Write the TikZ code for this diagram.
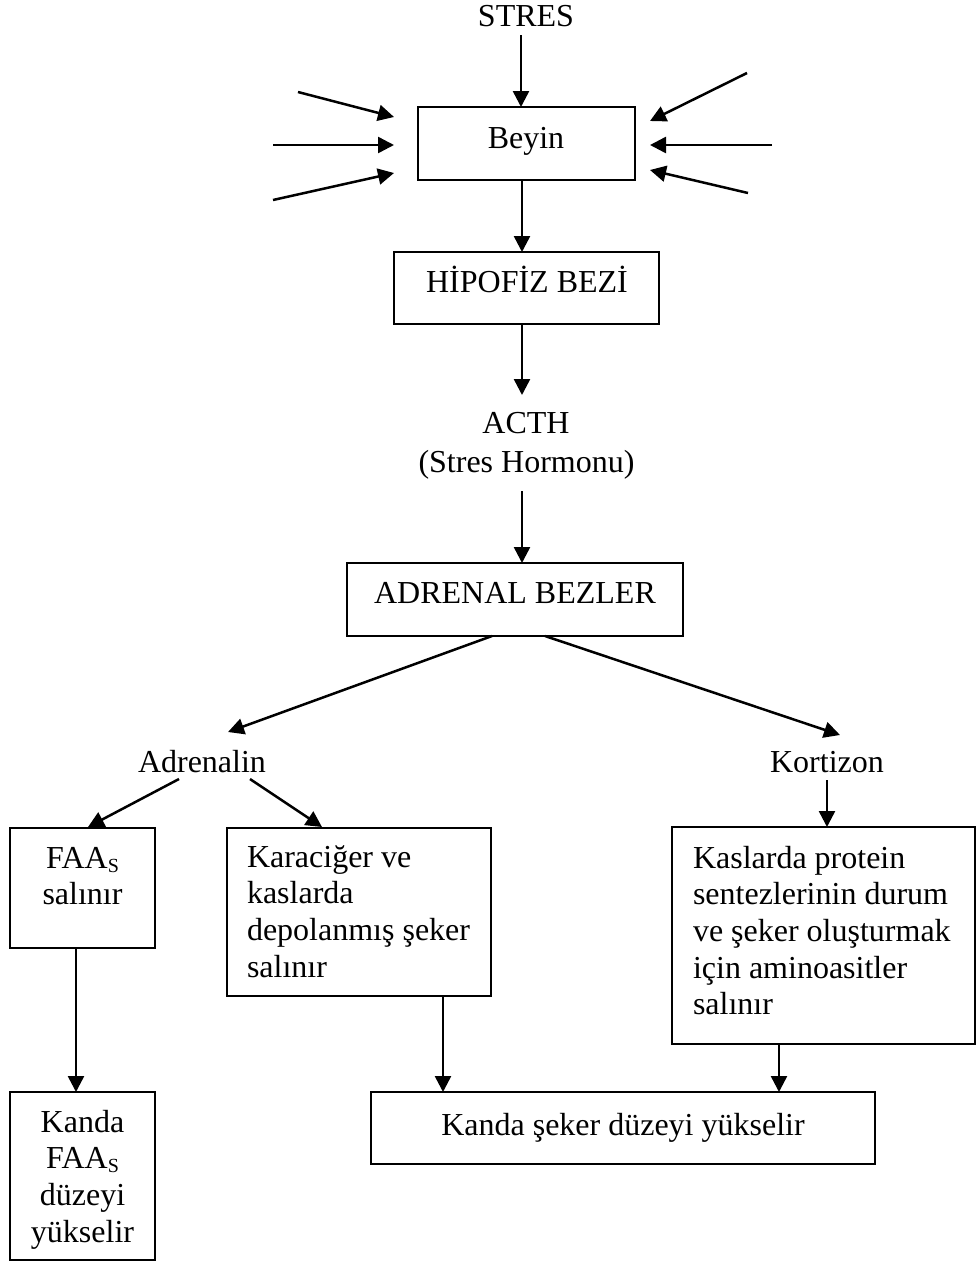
\documentclass[tikz,border=0pt]{standalone}
\usepackage{fontspec}
\setmainfont{Liberation Serif}
\usetikzlibrary{arrows.meta}
\newcommand\lowsub[1]{\raisebox{-4pt}{\fontsize{20}{20}\selectfont #1}}
\newcommand\linesL[1]{\begin{tabular}[t]{@{}l@{}}#1\end{tabular}}
\newcommand\linesC[1]{\begin{tabular}[t]{@{}c@{}}#1\end{tabular}}
\begin{document}
\begin{tikzpicture}[x=1pt,y=-1pt,
  font=\fontsize{32}{36.7}\selectfont,
  box/.style={draw, line width=2pt, inner sep=0pt, outer sep=0pt, anchor=north west},
  txt/.style={inner sep=0pt, outer sep=0pt},
  arr/.style={line width=2.5pt, -{Triangle[length=16pt,width=16pt]}}]
\useasboundingbox (0,0) rectangle (976,1262);

% boxes
\node[box, minimum width=217pt, minimum height=73pt] (beyin) at (418,107) {};
\node[box, minimum width=265pt, minimum height=72pt] (hip) at (394,252) {};
\node[box, minimum width=336pt, minimum height=73pt] (adr) at (347,563) {};
\node[box, minimum width=145pt, minimum height=120pt] (faa) at (10,828) {};
\node[box, minimum width=264pt, minimum height=168pt] (kar) at (227,828) {};
\node[box, minimum width=303pt, minimum height=217pt] (kas) at (672,827) {};
\node[box, minimum width=145pt, minimum height=168pt] (kfaa) at (10,1092) {};
\node[box, minimum width=504pt, minimum height=72pt] (kseker) at (371,1092) {};

% texts
\node[txt, anchor=base] (stres) at (526,26) {STRES};
\node[txt, anchor=base] (beyintxt) at (526,148) {Beyin};
\node[txt, anchor=base] (hiptxt) at (527,292) {HİPOFİZ BEZİ};
\node[txt, anchor=base] (acth) at (526,433) {ACTH};
\node[txt, anchor=base] (hormon) at (526.5,472) {(Stres Hormonu)};
\node[txt, anchor=base] (adrtxt) at (515,603) {ADRENAL BEZLER};
\node[txt, anchor=base] (adrenalin) at (202,772) {Adrenalin};
\node[txt, anchor=base] (kortizon) at (827,772) {Kortizon};
\node[txt, anchor=base] (faatxt) at (82.5,868) {\linesC{FAA\lowsub{S}\\ salınır}};
\node[txt, anchor=base west] (kartxt) at (247,867) {\linesL{Karaciğer ve\\ kaslarda\\ depolanmış şeker\\ salınır}};
\node[txt, anchor=base west] (kastxt) at (693,868) {\linesL{Kaslarda protein\\ sentezlerinin durum\\ ve şeker oluşturmak\\ için aminoasitler\\ salınır}};
\node[txt, anchor=base] (kfaatxt) at (82.5,1132) {\linesC{Kanda\\ FAA\lowsub{S}\\ düzeyi\\ yükselir}};
\node[txt, anchor=base] (ksekertxt) at (623,1135) {Kanda şeker düzeyi yükselir};

% free ends
\coordinate (s0) at (521,35);
\coordinate (mx) at (522,0);
\coordinate (acthtip) at (522,395);
\coordinate (acthfrom) at (522,491);
\coordinate (l1s) at (298,92);  \coordinate (l1e) at (394,117);
\coordinate (l2s) at (273,145); \coordinate (l2e) at (394,145);
\coordinate (l3s) at (273,200); \coordinate (l3e) at (394,173);
\coordinate (r1s) at (747,73);  \coordinate (r1e) at (650,121);
\coordinate (r2s) at (772,145); \coordinate (r2e) at (650,145);
\coordinate (r3s) at (748,193); \coordinate (r3e) at (650,170);
\coordinate (adrL) at (492,636); \coordinate (adrLtip) at (228,732);
\coordinate (adrR) at (545,636); \coordinate (adrRtip) at (840,735);
\coordinate (adnL) at (179,779); \coordinate (adnLtip) at (88,827);
\coordinate (adnR) at (250,779); \coordinate (adnRtip) at (322,827);
\coordinate (kort) at (827,780);
\coordinate (xfaa) at (76,0);
\coordinate (xkar) at (443,0);
\coordinate (xkas) at (779,0);

% connectors
\draw[arr] (s0) -- (s0 |- beyin.north);
\draw[arr] (l1s) -- (l1e);
\draw[arr] (l2s) -- (l2e);
\draw[arr] (l3s) -- (l3e);
\draw[arr] (r1s) -- (r1e);
\draw[arr] (r2s) -- (r2e);
\draw[arr] (r3s) -- (r3e);
\draw[arr] (mx |- beyin.south) -- (mx |- hip.north);
\draw[arr] (mx |- hip.south) -- (acthtip);
\draw[arr] (acthfrom) -- (mx |- adr.north);
\draw[arr] (adrL) -- (adrLtip);
\draw[arr] (adrR) -- (adrRtip);
\draw[arr] (adnL) -- (adnLtip);
\draw[arr] (adnR) -- (adnRtip);
\draw[arr] (kort) -- (kort |- kas.north);
\draw[arr] (xfaa |- faa.south) -- (xfaa |- kfaa.north);
\draw[arr] (xkar |- kar.south) -- (xkar |- kseker.north);
\draw[arr] (xkas |- kas.south) -- (xkas |- kseker.north);
\end{tikzpicture}
\end{document}
